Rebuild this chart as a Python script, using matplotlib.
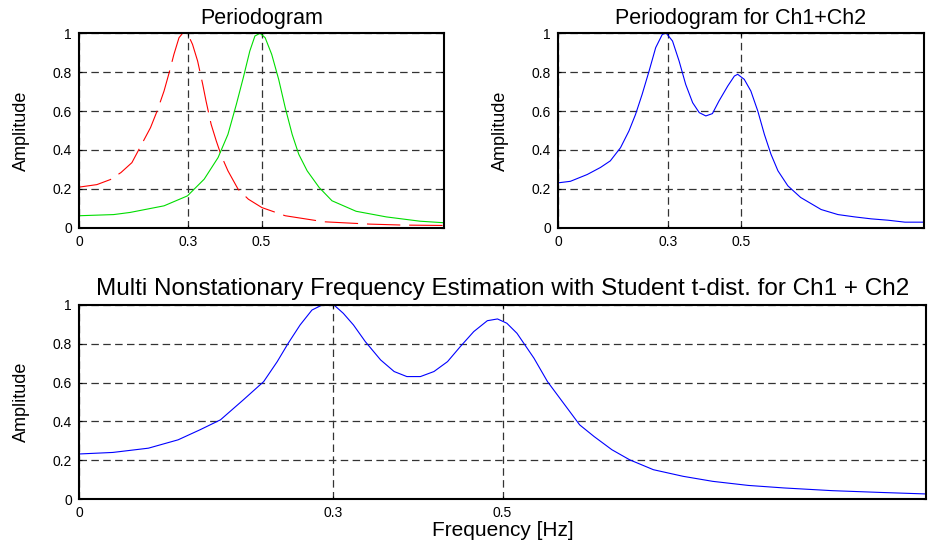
import matplotlib
matplotlib.use("Agg")
import matplotlib.pyplot as plt

plt.rcParams['font.family'] = ['Liberation Sans', 'DejaVu Sans']

# Ch1 periodogram (red, dashed)
ch1_f = [0.0, 0.049, 0.086, 0.115, 0.145, 0.196, 0.214, 0.233, 0.247, 0.260, 0.274, 0.284,
         0.297, 0.311, 0.325, 0.339, 0.348, 0.362, 0.376, 0.390, 0.408, 0.436, 0.464, 0.501,
         0.565, 0.671, 0.796, 0.888, 1.0]
ch1_a = [0.209, 0.222, 0.248, 0.284, 0.335, 0.515, 0.600, 0.703, 0.797, 0.891, 0.977, 1.0,
         1.0, 0.943, 0.857, 0.737, 0.652, 0.532, 0.447, 0.370, 0.293, 0.198, 0.147, 0.104,
         0.062, 0.031, 0.019, 0.014, 0.012]

# Ch2 periodogram (green)
ch2_f = [0.0, 0.095, 0.140, 0.233, 0.297, 0.343, 0.381, 0.408, 0.431, 0.450, 0.468, 0.482,
         0.496, 0.510, 0.528, 0.547, 0.565, 0.584, 0.602, 0.625, 0.658, 0.693, 0.759, 0.842,
         0.934, 1.0]
ch2_a = [0.062, 0.068, 0.079, 0.113, 0.164, 0.250, 0.361, 0.480, 0.634, 0.771, 0.909, 0.986,
         1.0, 0.977, 0.891, 0.763, 0.617, 0.480, 0.378, 0.293, 0.207, 0.139, 0.085, 0.056,
         0.034, 0.026]

# Periodogram of Ch1+Ch2
sum_f = [0.0, 0.034, 0.080, 0.116, 0.143, 0.171, 0.194, 0.212, 0.230, 0.249, 0.267, 0.285,
         0.296, 0.313, 0.331, 0.349, 0.368, 0.386, 0.404, 0.422, 0.440, 0.464, 0.482, 0.491,
         0.509, 0.527, 0.546, 0.564, 0.582, 0.601, 0.628, 0.663, 0.719, 0.765, 0.811, 0.856,
         0.902, 0.948, 1.0]
sum_a = [0.231, 0.239, 0.274, 0.310, 0.344, 0.412, 0.498, 0.583, 0.686, 0.806, 0.926, 0.994,
         1.0, 0.960, 0.857, 0.737, 0.643, 0.592, 0.575, 0.587, 0.652, 0.729, 0.780, 0.789,
         0.763, 0.703, 0.600, 0.480, 0.378, 0.293, 0.216, 0.156, 0.094, 0.068, 0.056, 0.046,
         0.039, 0.029, 0.029]

# Multi nonstationary estimate (Student t)
est_f = [0.0, 0.040, 0.082, 0.117, 0.143, 0.167, 0.194, 0.218, 0.234, 0.247, 0.261, 0.275,
         0.287, 0.301, 0.312, 0.324, 0.338, 0.356, 0.372, 0.387, 0.403, 0.419, 0.435, 0.450,
         0.466, 0.482, 0.494, 0.505, 0.517, 0.537, 0.553, 0.569, 0.591, 0.608, 0.629, 0.650,
         0.678, 0.713, 0.748, 0.790, 0.832, 0.889, 0.945, 1.0]
est_a = [0.232, 0.240, 0.262, 0.305, 0.357, 0.408, 0.511, 0.605, 0.708, 0.803, 0.897, 0.974,
         1.0, 1.0, 0.957, 0.897, 0.811, 0.717, 0.657, 0.631, 0.631, 0.657, 0.708, 0.785,
         0.863, 0.919, 0.928, 0.906, 0.854, 0.726, 0.605, 0.511, 0.382, 0.322, 0.254, 0.202,
         0.151, 0.117, 0.091, 0.070, 0.057, 0.043, 0.034, 0.026]

x_ticks = [0, 0.3, 0.5]
x_labels = ['0', '0.3', '0.5']
y_ticks = [0, 0.2, 0.4, 0.6, 0.8, 1.0]
y_labels = ['0', '0.2', '0.4', '0.6', '0.8', '1']


def style(ax, title, title_size):
    ax.set_xlim(0, 1)
    ax.set_ylim(0, 1)
    ax.set_xticks(x_ticks)
    ax.set_xticklabels(x_labels)
    ax.set_yticks(y_ticks)
    ax.set_yticklabels(y_labels)
    ax.tick_params(direction='in', length=2, labelsize=10, top=True, right=True, pad=5)
    ax.grid(True, color='0.2', linestyle=(0, (6, 3.5)), linewidth=0.9)
    for s in ax.spines.values():
        s.set_linewidth(1.5)
    ax.set_title(title, fontsize=title_size, pad=7)
    ax.set_ylabel('Amplitude', fontsize=13, labelpad=16)


fig = plt.figure(figsize=(9.29, 5.45), dpi=100)

ax1 = fig.add_axes([0.085, 0.582, 0.393, 0.357])
ax1.plot(ch1_f, ch1_a, color='red', lw=0.8, dashes=(30, 8))
ax1.plot(ch2_f, ch2_a, color='#00dd00', lw=0.8)
style(ax1, 'Periodogram', 15.5)

ax2 = fig.add_axes([0.6006, 0.582, 0.394, 0.357])
ax2.plot(sum_f, sum_a, color='blue', lw=0.8)
style(ax2, 'Periodogram for Ch1+Ch2', 15.5)

ax3 = fig.add_axes([0.085, 0.0844, 0.912, 0.356])
ax3.plot(est_f, est_a, color='blue', lw=0.8)
style(ax3, 'Multi Nonstationary Frequency Estimation with Student t-dist. for Ch1 + Ch2', 17.5)
ax3.set_xlabel('Frequency [Hz]', fontsize=15)
ax3.xaxis.set_label_coords(0.5, -0.115)

fig.savefig('out.png', dpi=100)
